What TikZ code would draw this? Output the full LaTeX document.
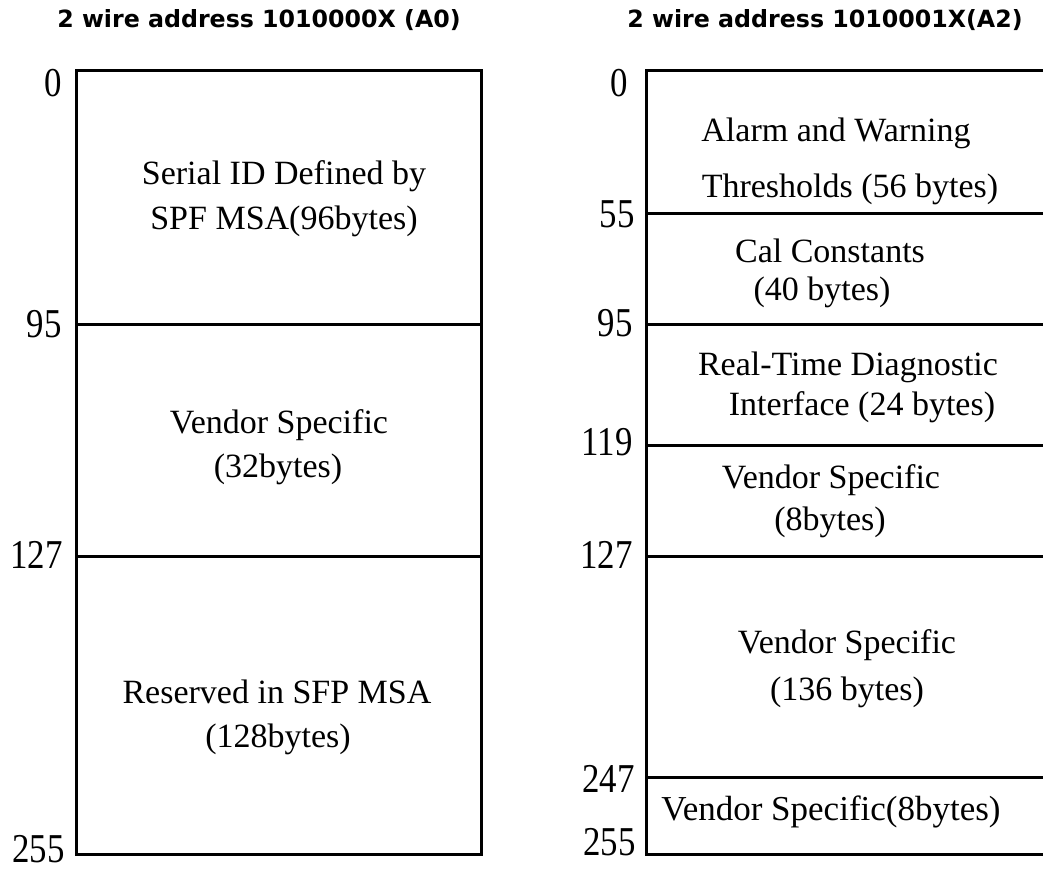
\documentclass[tikz,border=0pt]{standalone}
\usepackage{fontspec}
\setmainfont{Liberation Serif}
\newfontfamily\hdfont{DejaVu Sans Bold}
\newcommand{\addr}[1]{\scalebox{0.85}[1]{#1}}

\begin{document}
\begin{tikzpicture}[x=1pt,y=-1pt]
  \tikzset{lbl/.style={anchor=base,inner sep=0pt,font=\fontsize{34}{34}\selectfont},
           num/.style={anchor=base east,inner sep=0pt,font=\fontsize{41}{41}\selectfont},
           hd/.style={anchor=base,inner sep=0pt,font=\hdfont\fontsize{23.7}{24}\selectfont},
           mem/.style={line width=3pt}}
  \useasboundingbox (0,0) rectangle (1043,869);

  \node[hd] (hdA0) at (259,28) {2 wire address 1010000X (A0)};
  \node[hd] (hdA2) at (825,28) {2 wire address 1010001X(A2)};

  \draw[mem] (76,71) rectangle (481,854);
  \draw[mem] (76,324) -- (481,324);
  \draw[mem] (76,556) -- (481,556);

  \draw[mem] (1043,71) -| (646,854) -- (1043,854);
  \draw[mem] (646,213) -- (1043,213);
  \draw[mem] (646,324) -- (1043,324);
  \draw[mem] (646,445) -- (1043,445);
  \draw[mem] (646,556) -- (1043,556);
  \draw[mem] (646,777) -- (1043,777);

  \node[num] (a0)   at (62,97)   {\addr{0}};
  \node[num] (a95)  at (62,337)  {\addr{95}};
  \node[num] (a127) at (63,568)  {\addr{127}};
  \node[num] (a255) at (65,862)  {\addr{255}};

  \node[num] (b0)   at (628,97)  {\addr{0}};
  \node[num] (b55)  at (635,227) {\addr{55}};
  \node[num] (b95)  at (633,336) {\addr{95}};
  \node[num] (b119) at (633,455) {\addr{119}};
  \node[num] (b127) at (633,568) {\addr{127}};
  \node[num] (b247) at (635,792) {\addr{247}};
  \node[num] (b255) at (636,855) {\addr{255}};

  \node[lbl] (ser1) at (284,185) {Serial ID Defined by};
  \node[lbl] (ser2) at (284,229) {SPF MSA(96bytes)};
  \node[lbl] (vsA1) at (279,433) {Vendor Specific};
  \node[lbl] (vsA2) at (278,477) {(32bytes)};
  \node[lbl] (res1) at (277,703) {Reserved in SFP MSA};
  \node[lbl] (res2) at (278,747) {(128bytes)};

  \node[lbl] (alm1) at (836,142) {Alarm and Warning};
  \node[lbl] (alm2) at (850,197) {Thresholds (56 bytes)};
  \node[lbl] (cal1) at (830,262) {Cal Constants};
  \node[lbl] (cal2) at (822,300) {(40 bytes)};
  \node[lbl] (rtd1) at (848,375) {Real-Time Diagnostic};
  \node[lbl] (rtd2) at (862,415) {Interface (24 bytes)};
  \node[lbl] (vsB1) at (831,488) {Vendor Specific};
  \node[lbl] (vsB2) at (830,530) {(8bytes)};
  \node[lbl] (vsC1) at (847,653) {Vendor Specific};
  \node[lbl] (vsC2) at (847,700) {(136 bytes)};
  \node[lbl,font=\fontsize{35}{35}\selectfont] (vsD) at (831,820) {Vendor Specific(8bytes)};
\end{tikzpicture}
\end{document}
